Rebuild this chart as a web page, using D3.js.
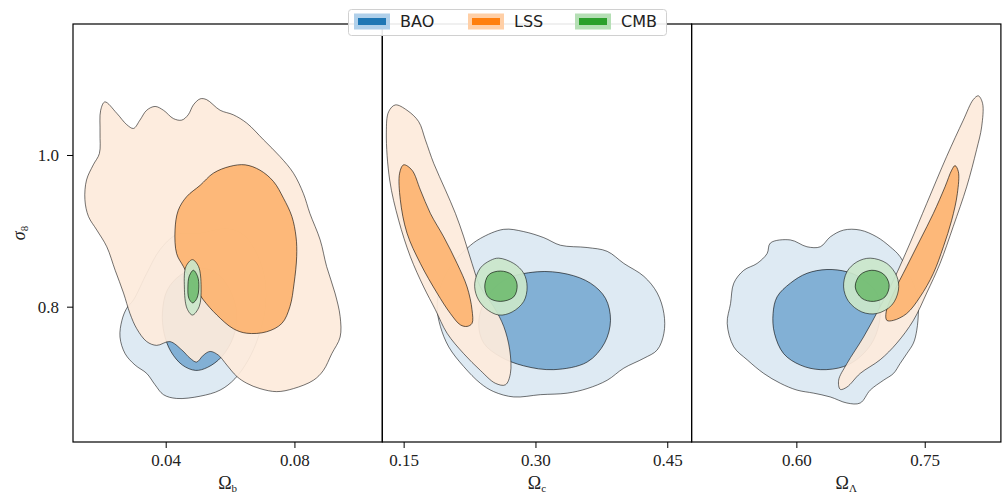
<!DOCTYPE html>
<html>
<head>
<meta charset="utf-8">
<script src="https://cdn.jsdelivr.net/npm/d3@7"></script>
<style>
  html, body { margin: 0; padding: 0; background: #fff; }
  svg { display: block; }
</style>
</head>
<body>
<div id="chart"></div>
<script>
// contour outlines, [x, sigma8]
const seriesNames = ['BAO', 'LSS', 'CMB'];
const yTicks = [0.8, 1.0];

// panel 1: Omega_b
const bTicks = [0.04, 0.08];
const baoOuterB = [[0.0300,0.809],[0.0341,0.844],[0.0382,0.875],[0.0434,0.895],[0.0507,0.897],[0.0590,0.903],[0.0641,0.895],[0.0683,0.870],[0.0709,0.835],[0.0709,0.796],[0.0688,0.760],[0.0657,0.730],[0.0615,0.705],[0.0569,0.690],[0.0507,0.682],[0.0434,0.679],[0.0393,0.684],[0.0367,0.697],[0.0341,0.712],[0.0305,0.723],[0.0274,0.738],[0.0258,0.760],[0.0264,0.782],[0.0279,0.798]];
const baoInnerB = [[0.0507,0.851],[0.0559,0.844],[0.0600,0.822],[0.0621,0.791],[0.0610,0.760],[0.0574,0.734],[0.0530,0.720],[0.0493,0.716],[0.0452,0.723],[0.0416,0.741],[0.0395,0.765],[0.0390,0.793],[0.0405,0.822],[0.0447,0.842]];
const lssOuterB = [[0.0211,1.070],[0.0248,1.055],[0.0279,1.040],[0.0300,1.035],[0.0320,1.046],[0.0341,1.059],[0.0367,1.064],[0.0393,1.059],[0.0424,1.048],[0.0450,1.046],[0.0470,1.053],[0.0486,1.066],[0.0507,1.074],[0.0527,1.073],[0.0569,1.059],[0.0610,1.053],[0.0652,1.042],[0.0704,1.020],[0.0755,0.998],[0.0797,0.976],[0.0828,0.949],[0.0848,0.923],[0.0880,0.888],[0.0900,0.853],[0.0926,0.818],[0.0942,0.787],[0.0942,0.760],[0.0916,0.738],[0.0890,0.716],[0.0859,0.703],[0.0797,0.692],[0.0745,0.688],[0.0693,0.692],[0.0652,0.699],[0.0621,0.708],[0.0590,0.723],[0.0564,0.736],[0.0538,0.741],[0.0517,0.736],[0.0496,0.727],[0.0476,0.732],[0.0450,0.743],[0.0413,0.754],[0.0372,0.749],[0.0341,0.754],[0.0310,0.771],[0.0289,0.791],[0.0269,0.818],[0.0243,0.848],[0.0217,0.879],[0.0186,0.901],[0.0160,0.919],[0.0149,0.941],[0.0154,0.967],[0.0175,0.987],[0.0194,1.002],[0.0196,1.029],[0.0198,1.059]];
const lssInnerB = [[0.0600,0.985],[0.0548,0.976],[0.0507,0.960],[0.0465,0.945],[0.0439,0.927],[0.0429,0.901],[0.0434,0.870],[0.0455,0.853],[0.0486,0.829],[0.0517,0.809],[0.0559,0.789],[0.0610,0.771],[0.0652,0.765],[0.0714,0.767],[0.0761,0.778],[0.0786,0.800],[0.0799,0.831],[0.0807,0.866],[0.0805,0.892],[0.0792,0.919],[0.0766,0.943],[0.0735,0.965],[0.0693,0.980],[0.0647,0.987]];
const cmbOuterB = [[0.0483,0.862],[0.0502,0.853],[0.0510,0.826],[0.0504,0.800],[0.0483,0.789],[0.0466,0.798],[0.0458,0.826],[0.0463,0.853]];
const cmbInnerB = [[0.0486,0.848],[0.0499,0.840],[0.0503,0.826],[0.0497,0.811],[0.0484,0.805],[0.0472,0.811],[0.0469,0.826],[0.0473,0.840]];

// panel 2: Omega_c
const cTicks = [0.15, 0.30, 0.45];
const baoOuterC = [[0.2222,0.877],[0.2373,0.890],[0.2639,0.902],[0.2867,0.899],[0.3095,0.891],[0.3285,0.881],[0.3588,0.878],[0.3816,0.873],[0.4006,0.857],[0.4234,0.840],[0.4386,0.818],[0.4462,0.791],[0.4462,0.765],[0.4386,0.743],[0.4234,0.732],[0.4006,0.719],[0.3816,0.703],[0.3588,0.692],[0.3361,0.686],[0.3057,0.684],[0.2753,0.681],[0.2525,0.688],[0.2373,0.699],[0.2184,0.721],[0.2013,0.747],[0.1918,0.774],[0.1880,0.800],[0.1918,0.826],[0.2032,0.853]];
const baoInnerC = [[0.3019,0.846],[0.3361,0.843],[0.3626,0.831],[0.3797,0.811],[0.3854,0.782],[0.3786,0.752],[0.3588,0.727],[0.3209,0.717],[0.2867,0.722],[0.2601,0.734],[0.2411,0.752],[0.2354,0.778],[0.2430,0.809],[0.2639,0.835]];
const lssOuterC = [[0.1405,1.066],[0.1538,1.059],[0.1671,1.044],[0.1747,1.020],[0.1842,0.989],[0.1975,0.954],[0.2089,0.923],[0.2184,0.892],[0.2278,0.857],[0.2373,0.826],[0.2525,0.800],[0.2639,0.774],[0.2707,0.743],[0.2715,0.712],[0.2658,0.697],[0.2544,0.699],[0.2373,0.716],[0.2184,0.738],[0.1994,0.765],[0.1861,0.796],[0.1728,0.826],[0.1576,0.866],[0.1443,0.914],[0.1341,0.967],[0.1303,1.029],[0.1329,1.057]];
const lssInnerC = [[0.1500,0.987],[0.1595,0.980],[0.1690,0.954],[0.1804,0.923],[0.1956,0.892],[0.2108,0.857],[0.2222,0.826],[0.2278,0.796],[0.2278,0.778],[0.2222,0.774],[0.2146,0.776],[0.2032,0.791],[0.1880,0.818],[0.1690,0.857],[0.1538,0.897],[0.1462,0.941],[0.1454,0.976]];
const cmbOuterC = [[0.2582,0.864],[0.2753,0.857],[0.2867,0.844],[0.2905,0.826],[0.2867,0.807],[0.2734,0.793],[0.2582,0.789],[0.2430,0.798],[0.2335,0.813],[0.2309,0.831],[0.2373,0.851],[0.2487,0.861]];
const cmbInnerC = [[0.2601,0.847],[0.2734,0.842],[0.2791,0.829],[0.2753,0.813],[0.2601,0.807],[0.2468,0.812],[0.2423,0.826],[0.2468,0.842]];

// panel 3: Omega_Lambda
const lTicks = [0.60, 0.75];
const baoOuterL = [[0.5697,0.884],[0.5930,0.888],[0.6124,0.879],[0.6280,0.879],[0.6396,0.892],[0.6552,0.901],[0.6746,0.901],[0.6940,0.892],[0.7096,0.879],[0.7212,0.866],[0.7329,0.840],[0.7407,0.818],[0.7426,0.796],[0.7407,0.769],[0.7368,0.752],[0.7290,0.738],[0.7212,0.725],[0.7135,0.712],[0.7018,0.703],[0.6863,0.690],[0.6746,0.673],[0.6591,0.673],[0.6396,0.681],[0.6202,0.686],[0.6008,0.690],[0.5813,0.699],[0.5619,0.712],[0.5425,0.730],[0.5269,0.747],[0.5192,0.778],[0.5231,0.804],[0.5269,0.831],[0.5386,0.848],[0.5541,0.857],[0.5658,0.870]];
const baoInnerL = [[0.6358,0.849],[0.6591,0.846],[0.6766,0.837],[0.6940,0.818],[0.6979,0.787],[0.6902,0.756],[0.6746,0.734],[0.6552,0.721],[0.6280,0.717],[0.6047,0.723],[0.5852,0.738],[0.5744,0.765],[0.5728,0.791],[0.5775,0.813],[0.5930,0.831],[0.6124,0.844]];
const lssOuterL = [[0.8126,1.078],[0.8176,1.068],[0.8165,1.037],[0.8106,1.007],[0.7990,0.958],[0.7834,0.906],[0.7679,0.857],[0.7523,0.818],[0.7368,0.782],[0.7174,0.752],[0.6979,0.730],[0.6746,0.712],[0.6591,0.694],[0.6513,0.691],[0.6494,0.703],[0.6591,0.725],[0.6785,0.760],[0.6979,0.800],[0.7135,0.835],[0.7329,0.884],[0.7523,0.936],[0.7756,0.998],[0.7951,1.046],[0.8067,1.073]];
const lssInnerL = [[0.7854,0.986],[0.7893,0.978],[0.7881,0.949],[0.7815,0.914],[0.7718,0.879],[0.7601,0.844],[0.7446,0.813],[0.7290,0.791],[0.7135,0.782],[0.7057,0.782],[0.7049,0.793],[0.7135,0.818],[0.7290,0.853],[0.7446,0.888],[0.7601,0.923],[0.7737,0.958],[0.7815,0.980]];
const cmbOuterL = [[0.6863,0.864],[0.7057,0.857],[0.7174,0.840],[0.7193,0.822],[0.7115,0.802],[0.6940,0.791],[0.6766,0.793],[0.6610,0.807],[0.6552,0.826],[0.6591,0.846],[0.6707,0.859]];
const cmbInnerL = [[0.6882,0.848],[0.7018,0.843],[0.7084,0.829],[0.7037,0.813],[0.6902,0.807],[0.6766,0.811],[0.6688,0.826],[0.6746,0.842]];

const tab = { BAO: '#1f77b4', LSS: '#ff7f0e', CMB: '#2ca02c' };
const outerFill = { BAO: '#dbe8f2', LSS: '#fdebdb', CMB: '#cae6ca' };
const innerFill = { BAO: '#78aad2', LSS: '#fdb26e', CMB: '#70bb70' };
const patchFill = { BAO: '#b0d0ea', LSS: '#ffcfa6', CMB: '#b5dfb5' };

const panels = [
  { domain: [0.0112, 0.1073], ticks: bTicks, sub: 'b',
    sets: { BAO: [baoOuterB, baoInnerB], LSS: [lssOuterB, lssInnerB], CMB: [cmbOuterB, cmbInnerB] } },
  { domain: [0.1257, 0.4777], ticks: cTicks, sub: 'c',
    sets: { BAO: [baoOuterC, baoInnerC], LSS: [lssOuterC, lssInnerC], CMB: [cmbOuterC, cmbInnerC] } },
  { domain: [0.4776, 0.8390], ticks: lTicks, sub: 'Λ',
    sets: { BAO: [baoOuterL, baoInnerL], LSS: [lssOuterL, lssInnerL], CMB: [cmbOuterL, cmbInnerL] } }
];

const width = 1005, height = 496;
const plotLeft = 73, plotTop = 24, plotBottom = 442, panelW = 309.3;
const serif = '"Liberation Serif", "DejaVu Serif", serif';

const svg = d3.select('#chart').append('svg')
  .attr('width', width)
  .attr('height', height);

const yScale = d3.scaleLinear().domain([0.6216, 1.1727]).range([plotBottom, plotTop]);

panels.forEach((p, i) => {
  const x0 = plotLeft + i * panelW;
  const xScale = d3.scaleLinear().domain(p.domain).range([x0, x0 + panelW]);

  svg.append('clipPath').attr('id', 'clip' + i)
    .append('rect')
    .attr('x', x0).attr('y', plotTop)
    .attr('width', panelW).attr('height', plotBottom - plotTop);

  const line = d3.line()
    .x(d => xScale(d[0]))
    .y(d => yScale(d[1]))
    .curve(d3.curveCatmullRomClosed.alpha(0.5));

  const g = svg.append('g').attr('clip-path', `url(#clip${i})`);

  seriesNames.forEach(name => {
    const [outer, inner] = p.sets[name];
    g.append('path')
      .attr('d', line(outer))
      .attr('fill', outerFill[name])
      .attr('fill-opacity', 0.93)
      .attr('stroke', '#000')
      .attr('stroke-opacity', 0.55)
      .attr('stroke-width', 1);
    g.append('path')
      .attr('d', line(inner))
      .attr('fill', innerFill[name])
      .attr('fill-opacity', 0.9)
      .attr('stroke', '#000')
      .attr('stroke-opacity', 0.6)
      .attr('stroke-width', 1);
  });

  // frame
  svg.append('rect')
    .attr('x', x0).attr('y', plotTop)
    .attr('width', panelW).attr('height', plotBottom - plotTop)
    .attr('fill', 'none')
    .attr('stroke', '#000')
    .attr('stroke-width', 1.2);

  const xAxis = svg.append('g')
    .attr('transform', `translate(0,${plotBottom})`)
    .call(d3.axisBottom(xScale).tickValues(p.ticks).tickFormat(d3.format('.2f')).tickSize(6).tickPadding(6));
  xAxis.select('.domain').remove();
  xAxis.selectAll('line').attr('stroke', '#000').attr('stroke-width', 1);
  xAxis.selectAll('text').attr('font-family', serif).attr('font-size', '17px').attr('fill', '#222');

  const xl = svg.append('text')
    .attr('x', x0 + panelW / 2)
    .attr('y', 489)
    .attr('text-anchor', 'middle')
    .attr('font-family', serif)
    .attr('font-size', '18px')
    .attr('fill', '#222');
  xl.append('tspan').text('Ω');
  xl.append('tspan').attr('font-size', '11px').attr('dy', 3).text(p.sub);

  if (i === 0) {
    const yAxis = svg.append('g')
      .attr('transform', `translate(${x0},0)`)
      .call(d3.axisLeft(yScale).tickValues(yTicks).tickFormat(d3.format('.1f')).tickSize(6).tickPadding(8));
    yAxis.select('.domain').remove();
    yAxis.selectAll('line').attr('stroke', '#000').attr('stroke-width', 1);
    yAxis.selectAll('text').attr('font-family', serif).attr('font-size', '17px').attr('fill', '#222');

    const yl = svg.append('text')
      .attr('transform', `translate(25,${(plotTop + plotBottom) / 2}) rotate(-90)`)
      .attr('text-anchor', 'middle')
      .attr('font-family', serif)
      .attr('font-size', '18px')
      .attr('fill', '#222');
    yl.append('tspan').attr('font-style', 'italic').text('σ');
    yl.append('tspan').attr('font-size', '11px').attr('dy', 3).text('8');
  }
});

// legend
const legend = svg.append('g');
legend.append('rect')
  .attr('x', 348.5).attr('y', 9.5)
  .attr('width', 318).attr('height', 26)
  .attr('rx', 3)
  .attr('fill', '#fff')
  .attr('fill-opacity', 0.9)
  .attr('stroke', '#d0d0d0');

const legendX = [354, 468, 575];
seriesNames.forEach((name, i) => {
  const lx = legendX[i];
  legend.append('rect')
    .attr('x', lx).attr('y', 13.5)
    .attr('width', 36).attr('height', 16)
    .attr('fill', patchFill[name]);
  legend.append('rect')
    .attr('x', lx + 4).attr('y', 18)
    .attr('width', 28).attr('height', 7)
    .attr('fill', tab[name]);
  legend.append('text')
    .attr('x', lx + 46).attr('y', 27)
    .attr('font-family', '"DejaVu Sans", sans-serif')
    .attr('font-size', '16px')
    .attr('fill', '#222')
    .text(name);
});
</script>
</body>
</html>
